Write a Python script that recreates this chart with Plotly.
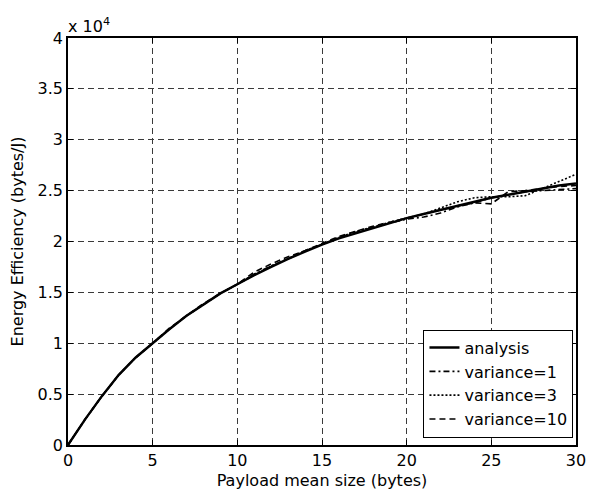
import plotly.graph_objects as go

# Payload mean size (bytes)
payload = list(range(0, 31))

# Energy efficiency in units of 10^4 bytes/J
analysis = [0, 0.25, 0.48, 0.69, 0.86, 1.00, 1.14, 1.27, 1.38, 1.49, 1.58,
            1.67, 1.75, 1.83, 1.90, 1.97, 2.03, 2.08, 2.13, 2.18, 2.23,
            2.27, 2.31, 2.35, 2.39, 2.43, 2.46, 2.49, 2.52, 2.55, 2.57]
variance_1 = [0, 0.25, 0.48, 0.69, 0.86, 1.00, 1.14, 1.27, 1.38, 1.49, 1.58,
              1.68, 1.76, 1.83, 1.91, 1.97, 2.04, 2.09, 2.14, 2.18, 2.22,
              2.24, 2.28, 2.34, 2.38, 2.43, 2.46, 2.49, 2.50, 2.51, 2.52]
variance_3 = [0, 0.25, 0.48, 0.69, 0.86, 1.00, 1.14, 1.27, 1.38, 1.49, 1.58,
              1.67, 1.76, 1.83, 1.91, 1.97, 2.04, 2.10, 2.14, 2.19, 2.23,
              2.27, 2.33, 2.39, 2.43, 2.44, 2.44, 2.45, 2.52, 2.59, 2.66]
variance_10 = [0, 0.25, 0.48, 0.69, 0.86, 1.00, 1.15, 1.27, 1.39, 1.49, 1.58,
               1.70, 1.78, 1.85, 1.91, 1.98, 2.05, 2.10, 2.15, 2.19, 2.23,
               2.27, 2.31, 2.35, 2.38, 2.37, 2.49, 2.50, 2.52, 2.54, 2.55]

x_ticks = [0, 5, 10, 15, 20, 25, 30]
y_ticks = [0, 0.5, 1, 1.5, 2, 2.5, 3, 3.5, 4]
y_tick_text = ["0", "0.5", "1", "1.5", "2", "2.5", "3", "3.5", "4"]

series = [
    ("analysis", analysis, "solid", 2.4),
    ("variance=1", variance_1, "6px,3px,2px,3px", 1.6),
    ("variance=3", variance_3, "2px,2px", 1.6),
    ("variance=10", variance_10, "6px,4px", 1.6),
]

FONT = "DejaVu Sans, Arial, sans-serif"
FS = 16

fig = go.Figure()
for name, values, dash, width in series:
    fig.add_trace(go.Scatter(
        x=payload, y=values, mode="lines", name=name,
        line=dict(color="black", width=width, dash=dash),
    ))

axis_common = dict(
    showline=True, linecolor="black", linewidth=1.5, mirror="allticks",
    ticks="inside", ticklen=5, tickwidth=1, tickcolor="black",
    showgrid=True, gridcolor="#3a3a3a", gridwidth=1, griddash="6px,4px",
    zeroline=False, tickfont=dict(family=FONT, size=FS, color="black"),
)

fig.update_xaxes(
    range=[0, 30], tickvals=x_ticks,
    title=dict(text="Payload mean size (bytes)", standoff=6,
               font=dict(family=FONT, size=FS, color="black")),
    **axis_common,
)
fig.update_yaxes(
    range=[0, 4], tickvals=y_ticks, ticktext=y_tick_text,
    title=dict(text="Energy Efficiency (bytes/J)", standoff=10,
               font=dict(family=FONT, size=FS, color="black")),
    **axis_common,
)

fig.add_annotation(
    text="x 10<sup>4</sup>", xref="paper", yref="paper", x=0, y=1,
    xanchor="left", yanchor="bottom", showarrow=False, yshift=0, xshift=-2,
    font=dict(family=FONT, size=FS, color="black"),
)

fig.update_layout(
    width=598, height=499,
    margin=dict(l=68, r=14, t=38, b=52),
    paper_bgcolor="white", plot_bgcolor="white",
    showlegend=True,
    legend=dict(
        x=0.995, y=0.018, xanchor="right", yanchor="bottom",
        bgcolor="white", bordercolor="black", borderwidth=1,
        font=dict(family=FONT, size=FS, color="black"),
        tracegroupgap=0,
    ),
)

fig.write_html("out.html")
